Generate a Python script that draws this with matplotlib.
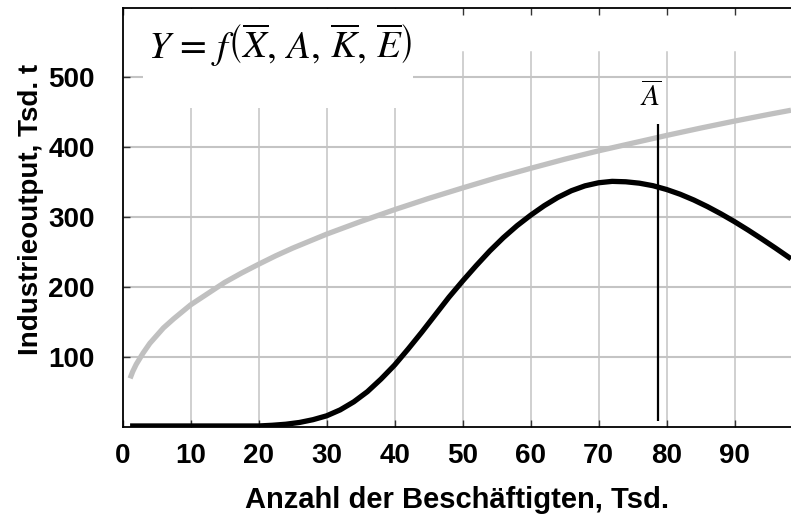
import matplotlib
matplotlib.use("Agg")
import matplotlib.pyplot as plt
from matplotlib.patches import Rectangle

# Produktionsfunktion Y = f(X, A, K, E), Werte aus der Vorlage abgelesen
# grey curve (upper)
upper_x = [1.1, 1.5, 2, 3, 4, 5, 6, 7.5, 10, 12.5, 15, 17.5, 20, 22.5, 25,
           27.5, 30, 35, 40, 45, 50, 55, 60, 65, 70, 75, 80, 85, 90, 95, 98.3]
upper_y = [69, 79, 89, 105, 119, 130, 141, 154, 174, 190, 206, 219.5, 232,
           244, 255, 265, 275, 293, 310, 326, 341, 355.5, 369, 382, 394, 405,
           416, 426.5, 436.5, 446, 452]

# black curve (Industrieoutput)
output_x = [1.1, 10, 20, 22, 24, 26, 28, 30, 32, 34, 36, 38, 40, 42, 44, 46,
            48, 50, 52, 54, 56, 58, 60, 62, 64, 66, 68, 70, 72, 74, 76, 78,
            80, 82, 84, 86, 88, 90, 92, 94, 96, 98.3]
output_y = [1, 1, 1, 2, 3.5, 6, 10, 15.5, 24, 35.5, 50, 68, 88, 111, 135,
            160, 185, 208, 230, 251, 270, 287, 302, 315.6, 327.4, 337, 344,
            348.4, 350.4, 349.8, 347.8, 344.2, 338.8, 332, 323.8, 314.4, 304,
            292.8, 280.8, 268.2, 255.2, 239.8]

a_bar_x = 78.8
a_bar_range = (8.6, 432)

x_ticks = [0, 10, 20, 30, 40, 50, 60, 70, 80, 90]
y_ticks = [100, 200, 300, 400, 500]

plt.rcParams['font.family'] = ['Liberation Sans', 'DejaVu Sans']
plt.rcParams['mathtext.fontset'] = 'stix'

fig = plt.figure(figsize=(7.91, 5.17), dpi=100)
ax = fig.add_axes([0.155, 0.1747, 0.845, 0.8098])
ax.set_xlim(0, 98.3)
ax.set_ylim(0, 598)

grid_col = '#c4c4c4'
for xv in x_ticks[1:]:
    ax.axvline(xv, ymin=0, ymax=0.895, color=grid_col, lw=1.1, zorder=1)
for yv in y_ticks:
    ax.axhline(yv, color=grid_col, lw=1.5, zorder=1)

# white box behind the formula
ax.add_patch(Rectangle((0.030, 0.761), 0.404, 0.236, transform=ax.transAxes,
                       facecolor='white', edgecolor='none', zorder=2))
ax.text(0.038, 0.912,
        r'$Y\,=\,f\left(\overline{X},\,A,\,\overline{K},\,\overline{E}\right)$',
        transform=ax.transAxes, fontsize=28, ha='left', va='center', zorder=3)

ax.plot(upper_x, upper_y, color='#c0c0c0', lw=3.8, solid_capstyle='butt', zorder=4)
ax.plot(output_x, output_y, color='black', lw=3.8, solid_capstyle='butt', zorder=5)
ax.vlines(a_bar_x, a_bar_range[0], a_bar_range[1], color='black', lw=1.6, zorder=6)
ax.text(77.6, 470, r'$\overline{A}$', fontsize=21, ha='center', va='center', zorder=6)

ax.set_xticks(x_ticks)
ax.set_yticks(y_ticks)
ax.tick_params(direction='in', length=5, width=1, top=True, right=False,
               labelsize=20, color='#333333')
ax.tick_params(axis='x', pad=12)
ax.tick_params(axis='y', pad=20)
for lab in ax.get_xticklabels() + ax.get_yticklabels():
    lab.set_fontweight('bold')

ax.spines['right'].set_visible(False)
for s in ['left', 'bottom', 'top']:
    ax.spines[s].set_linewidth(1.3)
    ax.spines[s].set_color('black')

ax.set_xlabel('Anzahl der Beschäftigten, Tsd.', fontsize=21, fontweight='bold')
ax.set_ylabel('Industrieoutput, Tsd. t', fontsize=20, fontweight='bold')
ax.xaxis.set_label_coords(0.5, -0.142)
ax.yaxis.set_label_coords(-0.117, 0.52)

fig.savefig('out.png', dpi=100)
